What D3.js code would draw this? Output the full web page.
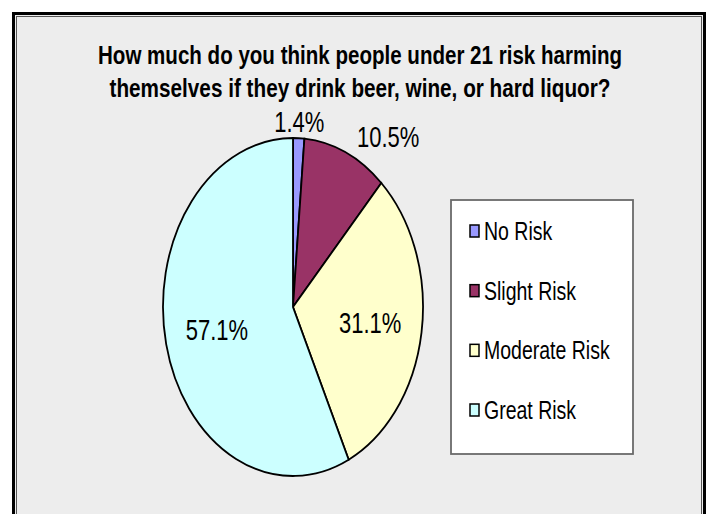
<!DOCTYPE html>
<html>
<head>
<meta charset="utf-8">
<script src="https://cdn.jsdelivr.net/npm/d3@7"></script>
<style>
  body { margin: 0; background: #fff; }
  svg { display: block; }
  text { font-family: "Liberation Sans", Arial, sans-serif; fill: #000; }
</style>
</head>
<body>
<div id="chart"></div>
<script>
const titleLines = ["How much do you think people under 21 risk harming",
                    "themselves if they drink beer, wine, or hard liquor?"]
const categories = ["No Risk", "Slight Risk", "Moderate Risk", "Great Risk"]
const values = [1.4, 10.5, 31.1, 57.1]
const colors = ["#9999FF", "#993366", "#FFFFCC", "#CCFFFF"]

const W = 708,
      H = 514,
      CX = 293,
      CY = 307,
      R = 130,
      STRETCH = 1.3   // the picture is squashed, everything is taller than wide

const svg = d3.select("#chart").append("svg")
  .attr("width", W)
  .attr("height", H)

// frame
svg.append("rect")
  .attr("x", 13.5).attr("y", 13.5)
  .attr("width", 691).attr("height", 600)
  .attr("fill", "#EDEDED")
  .attr("stroke", "#000")
  .attr("stroke-width", 3)
svg.append("rect")
  .attr("x", 16.5).attr("y", 16.5)
  .attr("width", 685).attr("height", 600)
  .attr("fill", "none")
  .attr("stroke", "#555")
  .attr("stroke-width", 1)

// stretched text helper
function sText(g, x, y, str, size, opts) {
  opts = opts || {}
  const t = g.append("g")
    .attr("transform", "translate(" + x + "," + y + ") scale(1," + STRETCH + ")")
    .append("text")
    .attr("font-size", size)
    .attr("text-anchor", opts.anchor || "start")
    .attr("font-weight", opts.bold ? "bold" : "normal")
    .text(str)
  if (opts.len) t.attr("textLength", opts.len).attr("lengthAdjust", "spacingAndGlyphs")
  return t
}

// title
const titleW = [524, 501]
titleLines.forEach(function(line, i) {
  sText(svg, 360, 64 + i * 33, line, 20, {anchor: "middle", bold: true, len: titleW[i]})
})

// pie
const data = categories.map(function(c, i) { return {cat: c, value: values[i], color: colors[i]} })
const pie = d3.pie().sort(null).value(function(d) { return d.value })
const arcs = pie(data)
const arc = d3.arc().innerRadius(0).outerRadius(R)

const pieG = svg.append("g")
  .attr("transform", "translate(" + CX + "," + CY + ") scale(1," + STRETCH + ")")

pieG.selectAll("path")
  .data(arcs)
  .enter()
  .append("path")
  .attr("d", arc)
  .attr("fill", function(d) { return d.data.color })
  .attr("stroke", "#000")
  .attr("stroke-width", 1.8)
  .attr("vector-effect", "non-scaling-stroke")

// data labels
const inArc = d3.arc().innerRadius(R * 0.6).outerRadius(R * 0.6)
const outArc = d3.arc().innerRadius(R * 1.1).outerRadius(R * 1.1)
const fmt = d3.format(".1f")
const labelG = svg.append("g")
arcs.forEach(function(d) {
  const big = d.endAngle - d.startAngle > 0.2 * Math.PI * 2
  const c = (big ? inArc : outArc).centroid(d)
  const mid = (d.startAngle + d.endAngle) / 2
  let anchor = "middle", dx = 0
  if (!big && Math.sin(mid) > 0.2) { anchor = "start"; dx = 6 }
  const x = CX + c[0] + dx,
        y = CY + c[1] * STRETCH
  sText(labelG, x, y + 0.36 * 22 * STRETCH, fmt(d.data.value) + "%", 22, {anchor: anchor})
})

// legend
svg.append("rect")
  .attr("x", 451).attr("y", 200)
  .attr("width", 182).attr("height", 254)
  .attr("fill", "#fff")
  .attr("stroke", "#6a6a6a")
  .attr("stroke-width", 1.8)

const ly = d3.scalePoint().domain(categories).range([231, 410])
const legend = svg.append("g")
legend.selectAll("rect")
  .data(data)
  .enter()
  .append("rect")
  .attr("x", 470)
  .attr("y", function(d) { return ly(d.cat) - 6 })
  .attr("width", 9)
  .attr("height", 12)
  .attr("fill", function(d) { return d.color })
  .attr("stroke", "#000")
  .attr("stroke-width", 1.5)
data.forEach(function(d) {
  sText(legend, 484, ly(d.cat) + 0.36 * 19.5 * STRETCH, d.cat, 19.5)
})
</script>
</body>
</html>
